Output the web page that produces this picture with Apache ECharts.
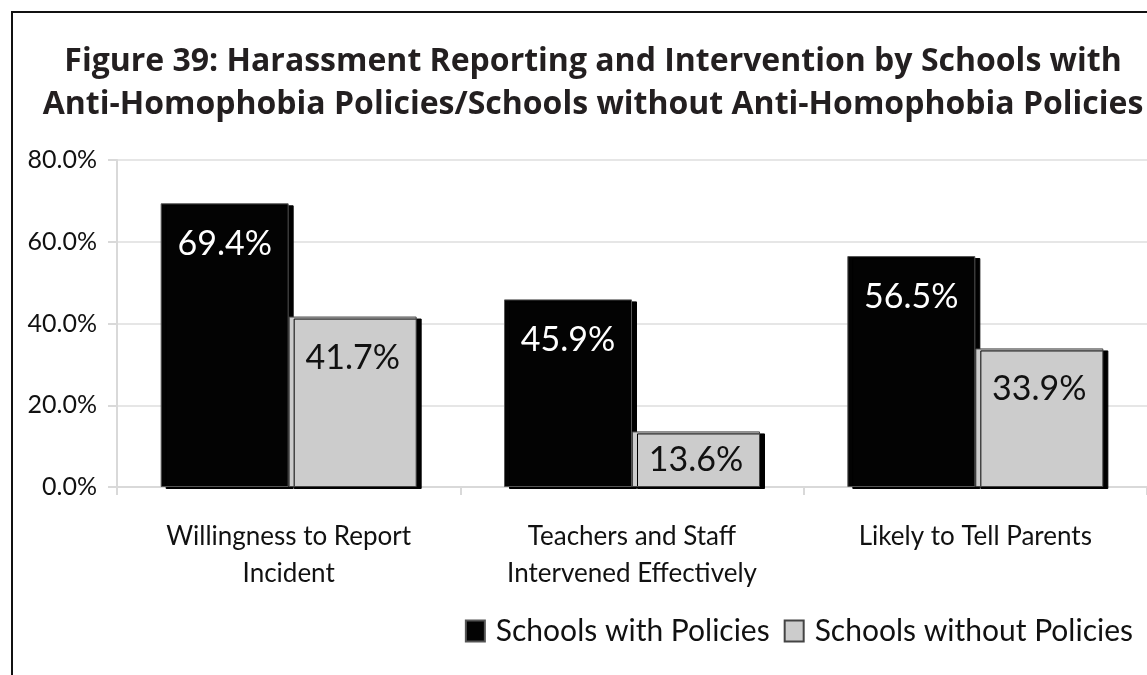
<!DOCTYPE html>
<html>
<head>
<meta charset="utf-8">
<script src="https://cdn.jsdelivr.net/npm/echarts@6/dist/echarts.min.js"></script>
<style>
  html, body { margin: 0; padding: 0; background: #fff; }
  #main { width: 1147px; height: 675px; }
</style>
</head>
<body>
<div id="main"></div>
<script>
const categories = ['Willingness to Report\nIncident', 'Teachers and Staff\nIntervened Effectively', 'Likely to Tell Parents'];
const withPolicies = [69.4, 45.9, 56.5];
const withoutPolicies = [41.7, 13.6, 33.9];
const yTicks = [0, 20, 40, 60, 80];

const chart = echarts.init(document.getElementById('main'));

// short bars get their label pulled up a bit, like the original
function labelled(vals) {
  return vals.map(function (v) {
    return v < 20 ? { value: v, label: { distance: 12 } } : v;
  });
}

const barShadow = {
  shadowColor: '#000',
  shadowBlur: 0,
  shadowOffsetX: 5,
  shadowOffsetY: 2
};

chart.setOption({
  animation: false,
  backgroundColor: '#fff',
  graphic: [{
    type: 'rect',
    shape: { x: 12, y: 12, width: 1300, height: 800 },
    style: { fill: 'none', stroke: '#111', lineWidth: 2 },
    z: 100
  }],
  title: {
    text: 'Figure 39: Harassment Reporting and Intervention by Schools with\nAnti-Homophobia Policies/Schools without Anti-Homophobia Policies',
    left: 588,
    top: 35,
    textAlign: 'center',
    textStyle: {
      fontFamily: 'Open Sans',
      fontWeight: 'bold',
      fontSize: 32,
      lineHeight: 43,
      color: '#231f20'
    }
  },
  legend: {
    right: 9,
    top: 611,
    icon: 'rect',
    itemWidth: 19,
    itemHeight: 21,
    itemGap: 14,
    textStyle: { fontFamily: 'Lato', fontSize: 30, color: '#111', padding: [0, 0, 0, 6] },
    data: ['Schools with Policies', 'Schools without Policies']
  },
  grid: { left: 117, top: 160, width: 1035, height: 327 },
  xAxis: {
    type: 'category',
    data: categories,
    axisLine: { lineStyle: { color: '#d9d9d9', width: 2 } },
    axisTick: { show: true, length: 8, lineStyle: { color: '#d9d9d9', width: 2 } },
    axisLabel: {
      margin: 31,
      fontFamily: 'Lato',
      fontSize: 26,
      lineHeight: 37,
      color: '#111'
    }
  },
  yAxis: {
    type: 'value',
    min: yTicks[0],
    max: yTicks[yTicks.length - 1],
    interval: 20,
    axisLine: { show: true, lineStyle: { color: '#d9d9d9', width: 2 } },
    axisTick: { show: true, length: 9, lineStyle: { color: '#d9d9d9', width: 2 } },
    splitLine: { lineStyle: { color: '#e6e6e6', width: 2 } },
    axisLabel: {
      margin: 20,
      fontFamily: 'Lato',
      fontSize: 25,
      color: '#111',
      formatter: function (v) { return v.toFixed(1) + '%'; }
    }
  },
  series: [{
    name: 'Schools with Policies',
    type: 'bar',
    barWidth: 128,
    barGap: '0%',
    data: labelled(withPolicies),
    itemStyle: Object.assign({ color: '#030303', borderColor: '#555', borderWidth: 1 }, barShadow),
    label: {
      show: true,
      position: 'insideTop',
      distance: 24,
      fontFamily: 'Lato',
      fontSize: 34,
      color: '#fff',
      formatter: function (p) { return p.value.toFixed(1) + '%'; }
    }
  }, {
    name: 'Schools without Policies',
    type: 'bar',
    barWidth: 128,
    barGap: '0%',
    data: labelled(withoutPolicies),
    itemStyle: Object.assign({ color: '#cccccc', borderColor: '#444', borderWidth: 1 }, barShadow),
    label: {
      show: true,
      position: 'insideTop',
      distance: 24,
      fontFamily: 'Lato',
      fontSize: 34,
      color: '#111',
      formatter: function (p) { return p.value.toFixed(1) + '%'; }
    }
  }]
});
</script>
</body>
</html>
